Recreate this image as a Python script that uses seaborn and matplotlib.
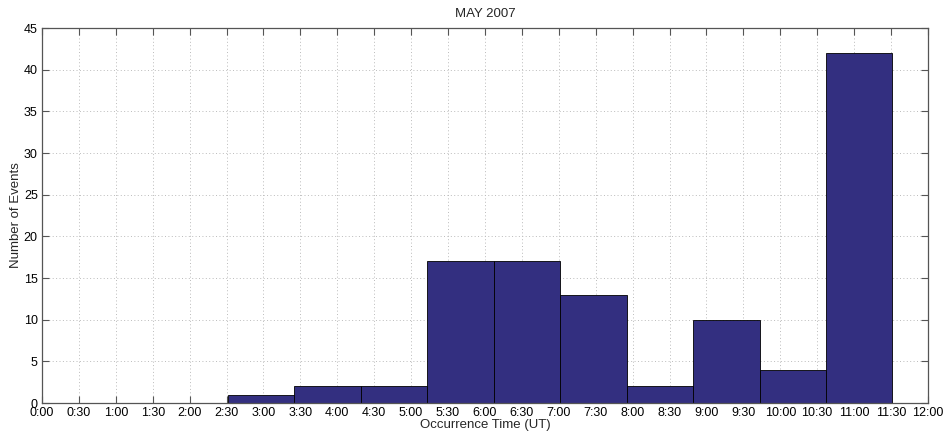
import matplotlib
matplotlib.use("Agg")
import matplotlib.pyplot as plt
import seaborn as sns
import numpy as np

# Histogram bins (hours UT) and event counts per bin
bin_edges = [2.52, 3.42, 4.32, 5.22, 6.12, 7.02, 7.92, 8.82, 9.72, 10.62, 11.52]
counts = [1, 2, 2, 17, 17, 13, 2, 10, 4, 42]

tick_hours = np.arange(0, 12.01, 0.5)
tick_labels = [f"{int(h)}:{'30' if h % 1 else '00'}" for h in tick_hours]
y_ticks = list(range(0, 46, 5))

sns.set_theme(style="white")
plt.rcParams["font.family"] = ["Liberation Sans", "DejaVu Sans"]

fig = plt.figure(figsize=(9.43, 4.32), dpi=100)
ax = fig.add_axes([0.0445, 0.0671, 0.9395, 0.868])

centers = [(a + b) / 2 for a, b in zip(bin_edges[:-1], bin_edges[1:])]
sns.histplot(x=centers, weights=counts, bins=bin_edges, ax=ax,
             color="#332f80", edgecolor="black", linewidth=0.6, alpha=1.0)

ax.set_xlim(0, 12)
ax.set_ylim(0, 45)
ax.set_xticks(tick_hours)
ax.set_xticklabels(tick_labels)
ax.set_yticks(y_ticks)

ax.grid(True, color="#bbbbbb", linestyle=(0, (1, 2.5)), linewidth=0.7)
ax.set_axisbelow(True)

for s in ax.spines.values():
    s.set_color("#555555")
    s.set_linewidth(0.9)
    s.set_visible(True)

ax.tick_params(axis="both", which="both", direction="in", length=5, width=0.8,
               color="#555555", top=True, right=True, bottom=True, left=True,
               labelsize=9, labelcolor="black", pad=3)

ax.set_xlabel("Occurrence Time (UT)", fontsize=9.5, labelpad=0)
ax.set_ylabel("Number of Events", fontsize=9.5, labelpad=1)
ax.set_title("MAY 2007", fontsize=9.5, pad=8)

fig.savefig("out.png", dpi=100, facecolor="white")
